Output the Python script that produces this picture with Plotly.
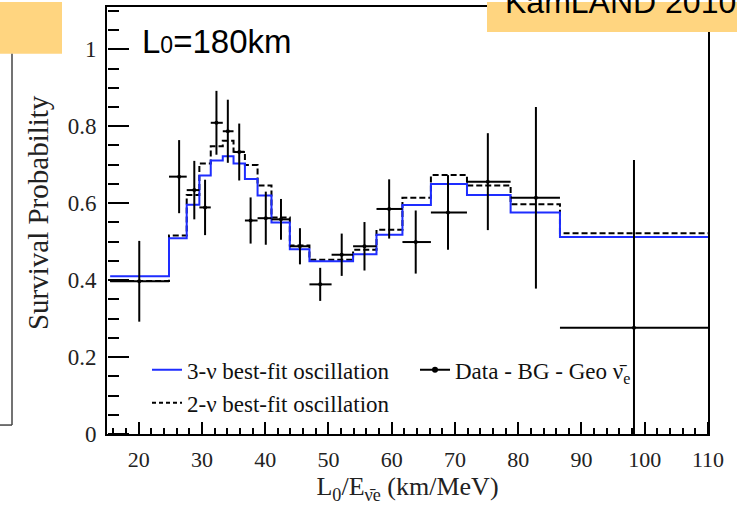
import plotly.graph_objects as go

# ---------------- data ----------------
bin_edges = [15.5, 24.8, 27.6, 29.6, 31.4, 33.3, 35.0, 36.8, 38.8, 41.0, 43.9,
             47.0, 50.5, 53.9, 57.6, 61.7, 66.2, 71.9, 78.8, 86.6, 110.0]
three_nu = [0.410, 0.509, 0.596, 0.672, 0.711, 0.722, 0.703, 0.663, 0.620, 0.550,
            0.480, 0.449, 0.449, 0.467, 0.518, 0.595, 0.650, 0.621, 0.576, 0.512]
two_nu = [0.398, 0.516, 0.621, 0.703, 0.748, 0.762, 0.734, 0.699, 0.646, 0.563,
          0.490, 0.453, 0.453, 0.479, 0.531, 0.614, 0.673, 0.646, 0.597, 0.522]
data_x = [20.1, 26.4, 28.8, 30.5, 32.3, 34.1, 35.9, 37.7, 40.1, 42.5,
          45.5, 48.7, 52.1, 55.7, 59.6, 63.8, 68.9, 75.2, 82.8, 98.3]
data_y = [0.397, 0.669, 0.634, 0.589, 0.809, 0.787, 0.733, 0.555, 0.561, 0.558,
          0.488, 0.389, 0.466, 0.488, 0.585, 0.499, 0.576, 0.656, 0.614, 0.276]
data_err = [0.105, 0.095, 0.076, 0.072, 0.083, 0.082, 0.074, 0.060, 0.069, 0.053,
            0.047, 0.043, 0.055, 0.063, 0.077, 0.082, 0.097, 0.126, 0.236, 0.436]

x_range = [15, 110]
y_range = [0, 1.11]

# ---------------- derived arrays for the library ----------------
step_x = bin_edges
step_3 = three_nu + [three_nu[-1]]
step_2 = two_nu + [two_nu[-1]]
ex_plus = [bin_edges[i + 1] - data_x[i] for i in range(len(data_x))]
ex_minus = [data_x[i] - bin_edges[i] for i in range(len(data_x))]

SERIF = "Liberation Serif"
SANS = "Liberation Sans"
ORANGE = "rgb(255,213,128)"

fig = go.Figure()
fig.add_trace(go.Scatter(
    x=step_x, y=step_2, mode="lines", line_shape="hv",
    line=dict(color="black", width=2, dash="6px,3px"),
    name="2-ν best-fit oscillation", showlegend=False))
fig.add_trace(go.Scatter(
    x=step_x, y=step_3, mode="lines", line_shape="hv",
    line=dict(color="rgb(30,45,255)", width=2),
    name="3-ν best-fit oscillation"))
fig.add_trace(go.Scatter(
    x=data_x, y=data_y, mode="markers",
    marker=dict(color="black", size=4),
    error_y=dict(type="data", array=data_err, color="black", thickness=2, width=0),
    error_x=dict(type="data", array=ex_plus, arrayminus=ex_minus, color="black",
                 thickness=2, width=0),
    showlegend=False, name="data"))
fig.add_trace(go.Scatter(
    x=[None], y=[None], mode="lines+markers",
    line=dict(color="black", width=2), marker=dict(color="black", size=6),
    name="Data - BG - Geo ν̄<sub>e</sub>"))
fig.add_trace(go.Scatter(
    x=[None], y=[None], mode="lines",
    line=dict(color="black", width=2, dash="4px,3px"),
    name="2-ν best-fit oscillation"))
fig.add_trace(go.Scatter(x=[None], y=[None], xaxis="x2", yaxis="y2",
                         showlegend=False, hoverinfo="skip"))
fig.add_trace(go.Scatter(x=[None], y=[None], xaxis="x3", yaxis="y3",
                         showlegend=False, hoverinfo="skip"))

L, R, T, B = 107, 29, 5, 86
W, H = 737, 520
pw, ph = W - L - R, H - T - B


def px_x(p):
    return (p - L) / pw


def px_y(p):
    return (H - B - p) / ph


shapes = [
    dict(type="rect", xref="paper", yref="paper", x0=px_x(0), x1=px_x(62),
         y0=px_y(52), y1=px_y(0), fillcolor=ORANGE, line_width=0, layer="above"),
    dict(type="rect", xref="paper", yref="paper", x0=px_x(487), x1=px_x(737),
         y0=px_y(30), y1=px_y(0), fillcolor=ORANGE, line_width=0, layer="above"),
    dict(type="line", xref="paper", yref="paper", x0=px_x(12), x1=px_x(12),
         y0=px_y(425), y1=px_y(52), line=dict(color="#444", width=1.5)),
    dict(type="line", xref="paper", yref="paper", x0=px_x(0), x1=px_x(12),
         y0=px_y(425), y1=px_y(425), line=dict(color="#444", width=1.5)),
]

annotations = [
    dict(xref="paper", yref="paper", x=px_x(140), y=px_y(40), xanchor="left",
         yanchor="middle", showarrow=False,
         text="L<span style='font-size:23px'>0</span>=180km",
         font=dict(family=SANS, size=33, color="black")),
    dict(xref="paper", yref="paper", x=px_x(503), y=px_y(20), xanchor="left",
         yanchor="bottom", showarrow=False, text="KamLAND 2010",
         font=dict(family=SANS, size=32, color="black")),
    dict(xref="paper", yref="paper", x=px_x(38), y=px_y(212), xanchor="center",
         yanchor="middle", showarrow=False, textangle=-90,
         text="Survival Probability",
         font=dict(family=SERIF, size=29, color="#222")),
]


def tick_axis(dtick, length, **kw):
    d = dict(tickmode="linear", tick0=0, dtick=dtick, ticks="outside",
             ticklen=length, tickwidth=2, tickcolor="black", showticklabels=False,
             showline=False, showgrid=False, zeroline=False)
    d.update(kw)
    return d


fig.update_layout(
    width=W, height=H,
    margin=dict(l=L, r=R, t=T, b=B),
    paper_bgcolor="white", plot_bgcolor="white",
    shapes=shapes, annotations=annotations,
    legend=dict(orientation="h", x=px_x(147), y=px_y(348), xanchor="left",
                yanchor="top", bgcolor="rgba(0,0,0,0)",
                font=dict(family=SERIF, size=23, color="#111"),
                itemwidth=30, entrywidth=223, entrywidthmode="pixels",
                traceorder="normal"),
    xaxis=dict(
        range=x_range, tickmode="linear", tick0=0, dtick=10, ticks="",
        showline=True, linecolor="black", linewidth=2, mirror=True,
        showgrid=False, zeroline=False, ticklabelstandoff=5,
        tickfont=dict(family=SERIF, size=22, color="#222"),
        title=dict(text="L<sub>0</sub>/E<sub>ν̄e</sub> (km/MeV)",
                   font=dict(family=SERIF, size=26, color="#222"), standoff=4),
    ),
    yaxis=dict(
        range=y_range, tickmode="linear", tick0=0, dtick=0.2, ticks="",
        showline=True, linecolor="black", linewidth=2, mirror=True,
        showgrid=False, zeroline=False, ticklabelstandoff=4,
        tickfont=dict(family=SERIF, size=23, color="#222"),
    ),
    # inward ticks: axes on the plot edge whose "outside" side faces the plot
    xaxis2=tick_axis(2, 6, overlaying="x", anchor="free", position=0,
                     side="top", range=x_range, tickwidth=1.5),
    yaxis2=tick_axis(0.05, 11, overlaying="y", anchor="free", position=0,
                     side="right", range=y_range, tickwidth=1.5),
    xaxis3=tick_axis(10, 12, overlaying="x", anchor="free", position=0,
                     side="top", range=x_range),
    yaxis3=tick_axis(0.2, 21, overlaying="y", anchor="free", position=0,
                     side="right", range=y_range),
)

fig.write_html("out.html")
